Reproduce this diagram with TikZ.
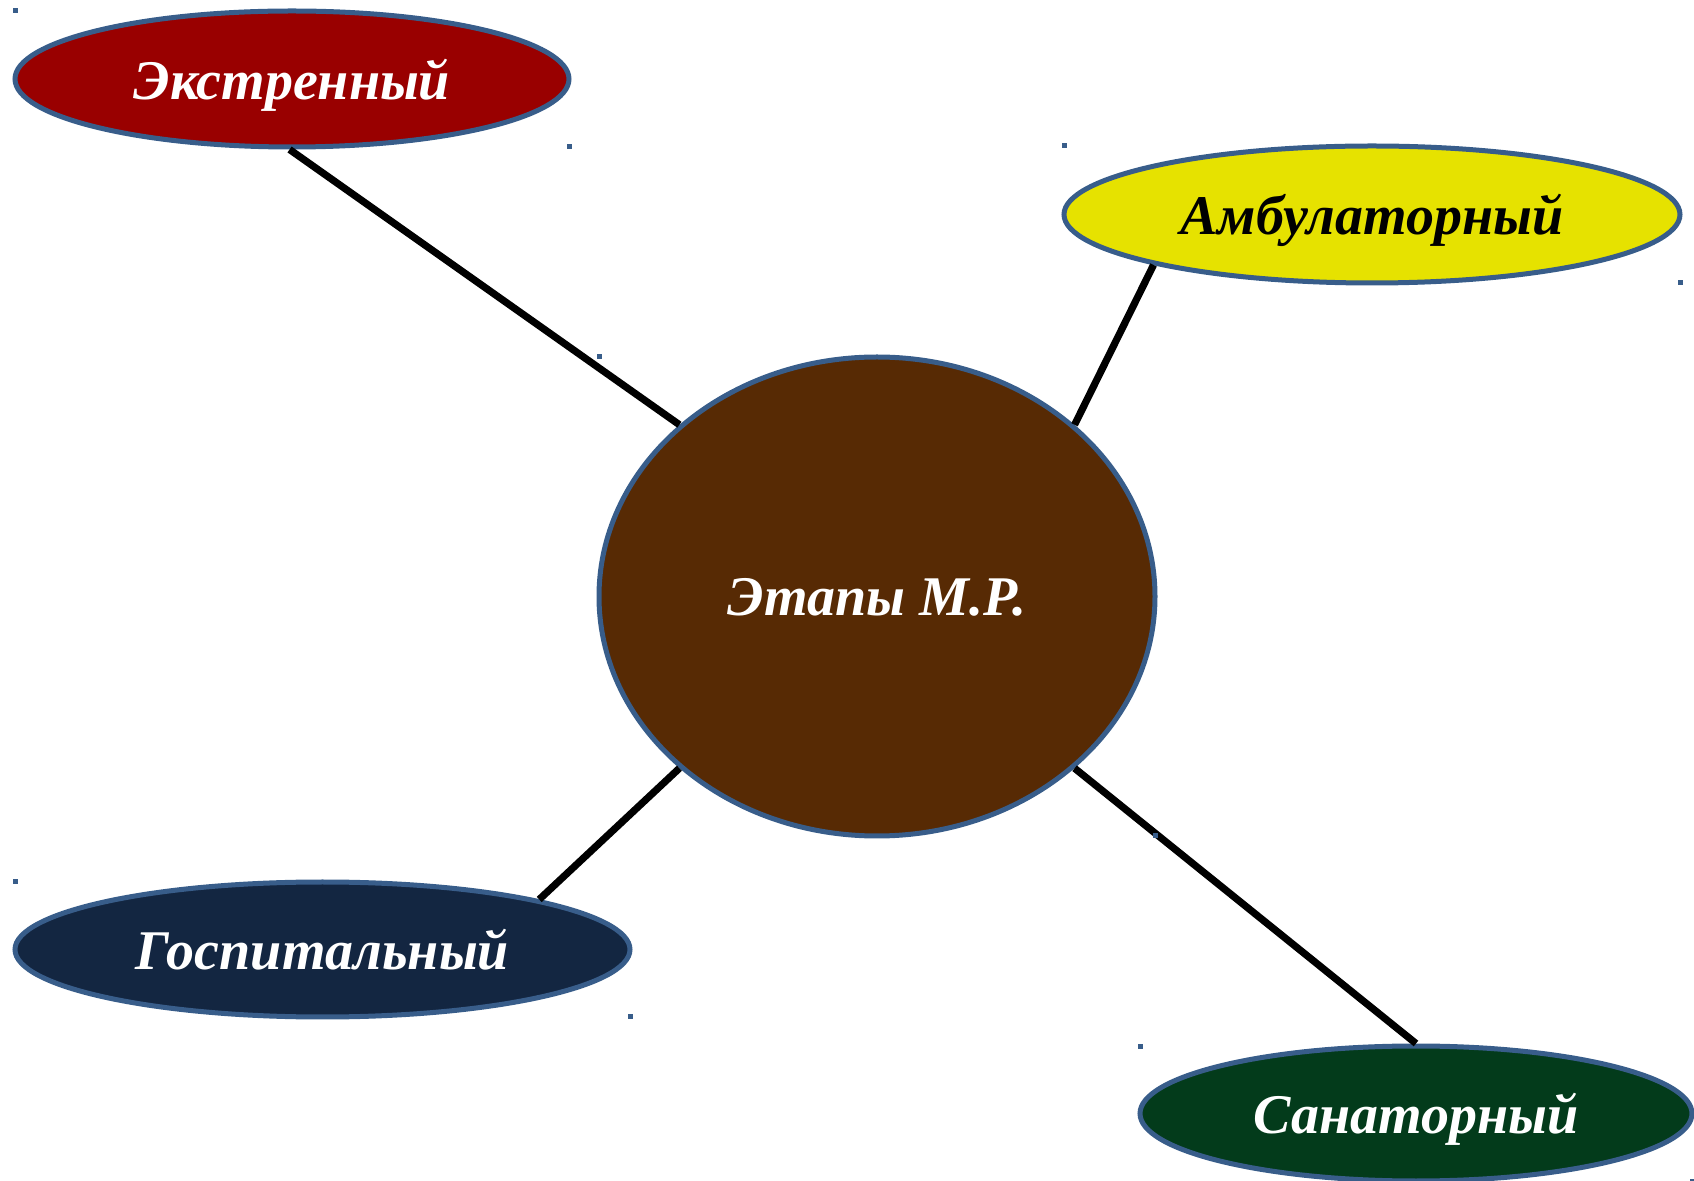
\documentclass[tikz,border=0pt]{standalone}
\usepackage{fontspec}
\setmainfont{Liberation Serif}
\usetikzlibrary{shapes.geometric}

\definecolor{rimblue}{HTML}{385D8A}
\definecolor{extred}{HTML}{990000}
\definecolor{ambyellow}{HTML}{E6E200}
\definecolor{mrbrown}{HTML}{572A04}
\definecolor{gospnavy}{HTML}{132641}
\definecolor{sangreen}{HTML}{033B1B}

\tikzset{
  stage/.style={ellipse, draw=rimblue, line width=2.5pt, inner sep=0pt,
    text depth=0pt, font=\fontsize{28}{34}\selectfont\bfseries\itshape},
  link/.style={line width=3.6pt, black},
  handle/.style={fill=rimblue}
}

\begin{document}
\begin{tikzpicture}[x=0.5pt,y=-0.5pt]
\useasboundingbox (0,0) rectangle (1694,1181);

% Shapes
\node (mr) at (877,596.5) [stage, fill=mrbrown, text=white,
  minimum width=278pt, minimum height=239.5pt] {Этапы М.Р.};
\node (ext) at (292,79) [stage, fill=extred, text=white,
  minimum width=277pt, minimum height=68pt] {Экстренный};
\node (amb) at (1372,214.5) [stage, fill=ambyellow, text=black,
  minimum width=308pt, minimum height=68.5pt] {Амбулаторный};
\node (gosp) at (322.5,949.5) [stage, fill=gospnavy, text=white,
  minimum width=307.5pt, minimum height=67.5pt] {Госпитальный};
\node (san) at (1416,1113.5) [stage, fill=sangreen, text=white,
  minimum width=276pt, minimum height=67.5pt] {Санаторный};

% Straight Lines
\draw [link] (mr.139) -- (ext.268);
\draw [link] (mr.41) -- (amb.193);
\draw [link] (mr.221) -- (gosp.13);
\draw [link] (mr.319) -- (san.north);

% Handles
\fill [handle] (12.5,8.5) rectangle ++(5,5);
\fill [handle] (566.5,144.5) rectangle ++(5,5);
\fill [handle] (1061.5,143.5) rectangle ++(5,5);
\fill [handle] (1677.5,280.5) rectangle ++(5,5);
\fill [handle] (596.5,354.5) rectangle ++(5,5);
\fill [handle] (1152.5,833.5) rectangle ++(5,5);
\fill [handle] (12.5,879.5) rectangle ++(5,5);
\fill [handle] (627.5,1014.5) rectangle ++(5,5);
\fill [handle] (1137.5,1043.5) rectangle ++(5,5);
\fill [handle] (1689.5,1178.5) rectangle ++(5,5);
\end{tikzpicture}
\end{document}
